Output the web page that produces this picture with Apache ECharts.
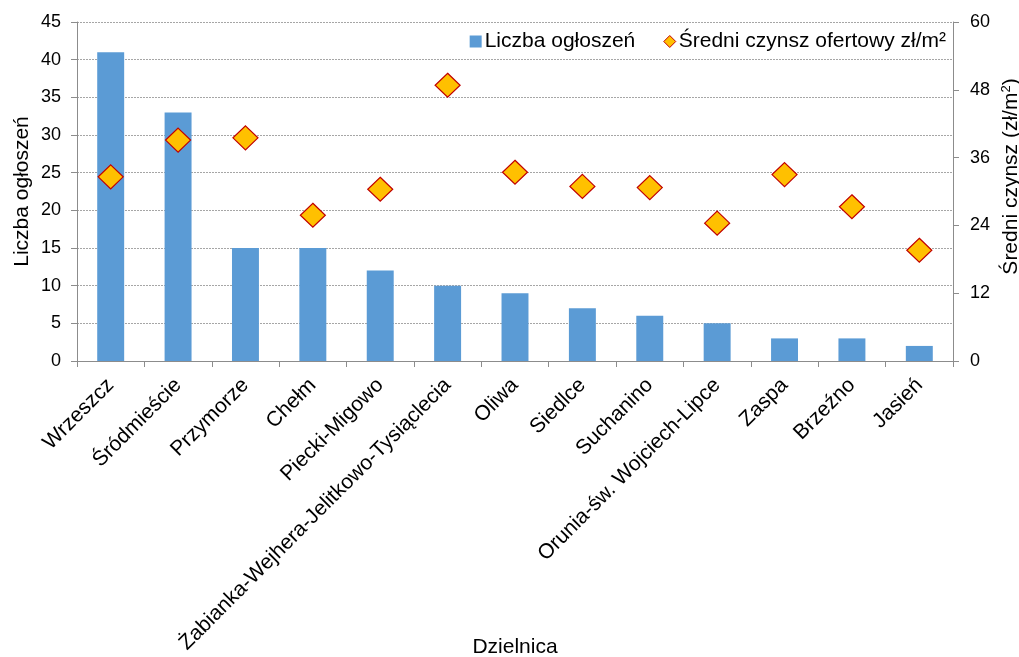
<!DOCTYPE html>
<html>
<head>
<meta charset="utf-8">
<script src="https://cdn.jsdelivr.net/npm/echarts@6/dist/echarts.min.js"></script>
<style>
  html, body { margin: 0; padding: 0; background: #fff; }
  #chart { width: 1019px; height: 657px; }
</style>
</head>
<body>
<div id="chart"></div>
<script>
// Districts of Gdańsk
const districts = [
  'Wrzeszcz', 'Śródmieście', 'Przymorze', 'Chełm', 'Piecki-Migowo',
  'Żabianka-Wejhera-Jelitkowo-Tysiąclecia', 'Oliwa', 'Siedlce', 'Suchanino',
  'Orunia-św. Wojciech-Lipce', 'Zaspa', 'Brzeźno', 'Jasień'
];
// Number of listings per district
const listingCounts = [41, 33, 15, 15, 12, 10, 9, 7, 6, 5, 3, 3, 2];
// Average asking rent, zł/m²
const avgRent = [32.6, 39.1, 39.5, 25.8, 30.4, 48.8, 33.4, 30.9, 30.7, 24.4, 33.0, 27.3, 19.6];

const leftTicks = { min: 0, max: 45, interval: 5 };
const rightTicks = { min: 0, max: 60, interval: 12 };

const FONT = '"Liberation Sans", Arial, sans-serif';
const axisGray = '#8c8c8c';

const chart = echarts.init(document.getElementById('chart'), null, { renderer: 'canvas' });

chart.setOption({
  animation: false,
  textStyle: { fontFamily: FONT, color: '#000' },
  grid: {
    left: 77, right: 66, top: 22, bottom: 296,
    containLabel: false,
    outerBoundsMode: 'none'
  },
  legend: {
    top: 26,
    right: 68,
    itemGap: 28,
    textStyle: { fontFamily: FONT, fontSize: 21, color: '#000', padding: [0, 0, 0, -2] },
    data: [
      { name: 'Liczba ogłoszeń', icon: 'rect', itemStyle: { color: '#5B9BD5' } },
      { name: 'Średni czynsz ofertowy zł/m²', icon: 'diamond',
        itemStyle: { color: '#FFC000', borderColor: '#C00000', borderWidth: 1 } }
    ],
    itemWidth: 12,
    itemHeight: 12
  },
  xAxis: {
    type: 'category',
    data: districts,
    name: 'Dzielnica',
    nameLocation: 'middle',
    nameGap: 276,
    nameMoveOverlap: false,
    nameTextStyle: { fontFamily: FONT, fontSize: 21, color: '#000' },
    axisLine: { lineStyle: { color: axisGray, width: 1 } },
    axisTick: { show: true, alignWithLabel: false, length: 6, lineStyle: { color: axisGray } },
    axisLabel: { rotate: 45, fontFamily: FONT, fontSize: 21, color: '#000', margin: 21, interval: 0 }
  },
  yAxis: [
    {
      type: 'value',
      min: leftTicks.min, max: leftTicks.max, interval: leftTicks.interval,
      name: 'Liczba ogłoszeń',
      nameLocation: 'middle',
      nameRotate: 90,
      nameGap: 44,
      nameMoveOverlap: false,
      nameTextStyle: { fontFamily: FONT, fontSize: 21, color: '#000' },
      axisLine: { show: true, lineStyle: { color: axisGray } },
      axisTick: { show: true, length: 6, lineStyle: { color: axisGray } },
      axisLabel: { fontFamily: FONT, fontSize: 18, color: '#000', margin: 16 },
      splitLine: { show: true, lineStyle: { color: '#a6a6a6', type: [2, 1], width: 1 } }
    },
    {
      type: 'value',
      position: 'right',
      min: rightTicks.min, max: rightTicks.max, interval: rightTicks.interval,
      name: '{t|Średni czynsz (zł/m}{s|2}{t|)}',
      nameLocation: 'middle',
      nameRotate: 90,
      nameGap: 47,
      nameMoveOverlap: false,
      nameTextStyle: {
        fontFamily: FONT, fontSize: 21, color: '#000',
        padding: [0, 0, 0, 30],
        rich: {
          t: { fontFamily: FONT, fontSize: 21, color: '#000' },
          s: { fontFamily: FONT, fontSize: 13, color: '#000', verticalAlign: 'top', padding: [0, 0, 9, 0] }
        }
      },
      axisLine: { show: true, lineStyle: { color: axisGray } },
      axisTick: { show: true, length: 6, lineStyle: { color: axisGray } },
      axisLabel: { fontFamily: FONT, fontSize: 18, color: '#000', margin: 17 },
      splitLine: { show: false }
    }
  ],
  series: [
    {
      name: 'Liczba ogłoszeń',
      type: 'bar',
      yAxisIndex: 0,
      data: listingCounts,
      barWidth: '40%',
      itemStyle: { color: '#5B9BD5' }
    },
    {
      name: 'Średni czynsz ofertowy zł/m²',
      type: 'scatter',
      yAxisIndex: 1,
      data: avgRent,
      symbol: 'diamond',
      symbolSize: [25, 24],
      itemStyle: { color: '#FFC000', borderColor: '#C00000', borderWidth: 1.2, opacity: 1 }
    }
  ]
});
</script>
</body>
</html>
